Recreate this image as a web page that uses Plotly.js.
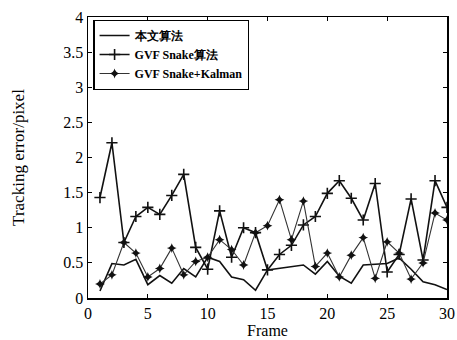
<!DOCTYPE html>
<html>
<head>
<meta charset="utf-8">
<script src="https://cdn.plot.ly/plotly-3.0.1.min.js"></script>
<style>html,body{margin:0;padding:0;background:#fff;}#chart{width:457px;height:340px;}</style>
</head>
<body>
<div id="chart"></div>
<script>
var frames = [1,2,3,4,5,6,7,8,9,10,11,12,13,14,15,16,17,18,19,20,21,22,23,24,25,26,27,28,29,30];
var ours = [0.10,0.49,0.47,0.55,0.19,0.32,0.21,0.42,0.30,0.58,0.52,0.30,0.26,0.11,0.40,0.42,0.45,0.47,0.34,0.52,0.31,0.21,0.47,0.48,0.49,0.57,0.41,0.23,0.19,0.12];
var gvf = [1.43,2.21,0.79,1.16,1.29,1.19,1.46,1.76,0.72,0.41,1.24,0.58,1.00,0.93,0.40,0.62,0.75,1.04,1.16,1.49,1.67,1.42,1.11,1.63,0.37,0.62,1.41,0.54,1.67,1.29];
var kalman = [0.20,0.33,0.79,0.64,0.30,0.42,0.71,0.33,0.52,0.58,0.83,0.69,0.47,0.93,1.03,1.40,0.83,1.38,0.45,0.64,0.30,0.61,0.86,0.28,0.80,0.64,0.27,0.50,1.21,1.11];
var names = ['本文算法','GVF Snake算法','GVF Snake+Kalman'];

var serif = 'Liberation Serif, Times New Roman, serif';
var traces = [
  {x: frames, y: ours, name: names[0], mode: 'lines', line: {color: '#111', width: 1.6}},
  {x: frames, y: gvf, name: names[1], mode: 'lines+markers', line: {color: '#111', width: 1.6},
   marker: {symbol: 'cross-thin-open', size: 8, color: '#111', line: {color: '#111', width: 1.6}}},
  {x: frames, y: kalman, name: names[2], mode: 'lines+markers', line: {color: '#333', width: 1.1},
   marker: {symbol: 'star-diamond', size: 7, color: '#111', line: {width: 0}}}
];
var axisCommon = {
  showgrid: false, zeroline: false, showline: true, linecolor: '#000', linewidth: 1.5,
  mirror: 'ticks', ticks: 'inside', ticklen: 4, tickcolor: '#000', tickwidth: 1,
  tickfont: {family: serif, size: 16, color: '#000'}
};
var layout = {
  width: 457, height: 340,
  margin: {l: 88, r: 10, t: 17, b: 42},
  paper_bgcolor: '#fff', plot_bgcolor: '#fff',
  showlegend: true,
  legend: {x: 0.015, y: 0.99, xanchor: 'left', yanchor: 'top', bgcolor: '#fff',
    bordercolor: '#000', borderwidth: 1.2,
    font: {family: serif, size: 12, color: '#000', weight: 'bold'},
    tracegroupgap: 0, itemwidth: 30},
  xaxis: Object.assign({}, axisCommon, {range: [0, 30], dtick: 5, tick0: 0,
    title: {text: 'Frame', font: {family: serif, size: 16, color: '#000'}, standoff: 2}}),
  yaxis: Object.assign({}, axisCommon, {range: [0, 4], dtick: 0.5, tick0: 0,
    title: {text: 'Tracking error/pixel', font: {family: serif, size: 17, color: '#000'}, standoff: 34}})
};
Plotly.newPlot('chart', traces, layout, {displayModeBar: false, staticPlot: true});
</script>
</body>
</html>
